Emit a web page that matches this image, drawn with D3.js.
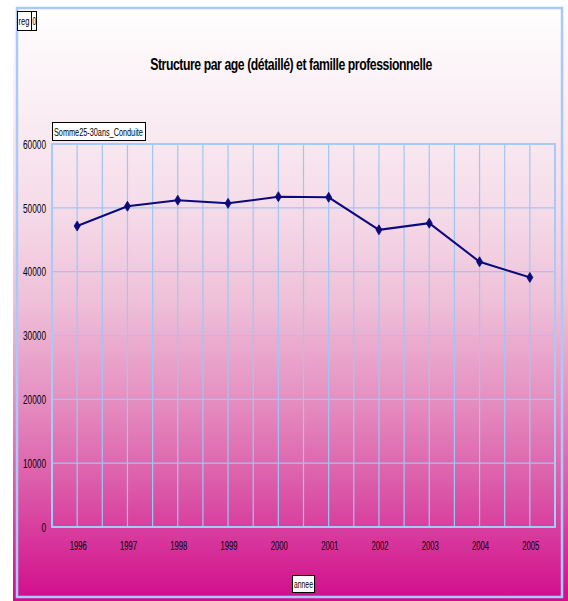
<!DOCTYPE html>
<html>
<head>
<meta charset="utf-8">
<script src="https://cdn.jsdelivr.net/npm/d3@7"></script>
<style>
  html, body { margin: 0; padding: 0; background: #ffffff; }
  svg { display: block; font-family: "Liberation Sans", Arial, sans-serif; }
</style>
</head>
<body>
<svg id="chart" width="568" height="601"></svg>
<script>
// Yearly totals, 25-30 age group, "Conduite" family
const years = ["1996", "1997", "1998", "1999", "2000", "2001", "2002", "2003", "2004", "2005"];
const values = [47150, 50250, 51200, 50700, 51750, 51650, 46550, 47600, 41550, 39100];
const yTicks = [0, 10000, 20000, 30000, 40000, 50000, 60000];

const titleText = "Structure par age (détaillé) et famille professionnelle";
const seriesName = "Somme25-30ans_Conduite";
const filterField = "reg";
const filterValue = "0";
const xTitle = "annee";

const svg = d3.select("#chart");

// Background gradient, white at the top to magenta at the bottom
const defs = svg.append("defs");
const grad = defs.append("linearGradient")
  .attr("id", "bg").attr("x1", 0).attr("y1", 0).attr("x2", 0).attr("y2", 1);
[[0, "#ffffff"], [0.15, "#fbf1f6"], [0.35, "#f5dbe8"], [0.5, "#efc0d9"],
 [0.65, "#e694c3"], [0.8, "#dc5eaa"], [1, "#d20c8c"]]
  .forEach(([o, c]) => grad.append("stop").attr("offset", o).attr("stop-color", c));

svg.append("rect").attr("x", 13).attr("y", 0).attr("width", 555).attr("height", 601)
  .attr("fill", "url(#bg)");

// Outer frame
svg.append("rect").attr("x", 17).attr("y", 8).attr("width", 545).attr("height", 589)
  .attr("fill", "none").attr("stroke", "#a9c9fb").attr("stroke-width", 2.5);

// Condensed text: squeeze a label horizontally to a given width around its anchor x
function squeeze(sel, width) {
  const node = sel.node();
  const natural = node.getComputedTextLength();
  const k = Math.min(1, width / natural);
  const ax = +sel.attr("x") || 0;
  sel.attr("transform", `translate(${ax},0) scale(${k},1) translate(${-ax},0)`);
  return sel;
}

// Plot area
const plot = { left: 52, top: 144, right: 555, bottom: 527 };

const x = d3.scaleBand().domain(years).range([plot.left, plot.right]).padding(0);
const y = d3.scaleLinear().domain([0, 60000]).range([plot.bottom, plot.top]);

const grid = svg.append("g").attr("stroke", "#9cc8f6").attr("stroke-width", 1.2);

// Horizontal gridlines
yTicks.forEach(t => {
  grid.append("line").attr("x1", plot.left).attr("x2", plot.right)
    .attr("y1", y(t)).attr("y2", y(t));
});

// Vertical gridlines at category edges and centres
years.forEach(yr => {
  const x0 = x(yr), xc = x(yr) + x.bandwidth() / 2;
  grid.append("line").attr("x1", x0).attr("x2", x0).attr("y1", plot.top).attr("y2", plot.bottom);
  grid.append("line").attr("x1", xc).attr("x2", xc).attr("y1", plot.top).attr("y2", plot.bottom);
});

// Plot border
svg.append("rect").attr("x", plot.left).attr("y", plot.top)
  .attr("width", plot.right - plot.left).attr("height", plot.bottom - plot.top)
  .attr("fill", "none").attr("stroke", "#a4ccf8").attr("stroke-width", 2);

// Y axis labels
const yAxis = d3.axisLeft(y).tickValues(yTicks).tickSize(0).tickPadding(5).tickFormat(d3.format("d"));
const gy = svg.append("g").attr("transform", `translate(${plot.left - 1},0)`).call(yAxis);
gy.select(".domain").remove();
gy.selectAll("text")
  .attr("font-size", 12).attr("fill", "#000").attr("dy", "0.35em")
  .each(function(d) { squeeze(d3.select(this), String(d).length * 4.6); });

// X axis labels
const xAxis = d3.axisBottom(x).tickSize(0).tickPadding(14);
const gx = svg.append("g").attr("transform", `translate(1,${plot.bottom})`).call(xAxis);
gx.select(".domain").remove();
gx.selectAll("text").attr("font-size", 12).attr("fill", "#000")
  .each(function() { squeeze(d3.select(this), 17); });

// Series line
const cx = d => x(d.year) + x.bandwidth() / 2;
const data = years.map((yr, i) => ({ year: yr, value: values[i] }));

svg.append("path").datum(data)
  .attr("fill", "none").attr("stroke", "#0a0a7a").attr("stroke-width", 2)
  .attr("d", d3.line().x(cx).y(d => y(d.value)));

// Diamond markers
svg.selectAll(".marker").data(data).enter().append("path")
  .attr("class", "marker")
  .attr("transform", d => `translate(${cx(d)},${y(d.value)})`)
  .attr("d", "M0,-5L3,0L0,5L-3,0Z")
  .attr("fill", "#0a0a7a").attr("stroke", "#0a0a7a").attr("stroke-width", 0.8);

// Title
squeeze(svg.append("text").attr("x", 291).attr("y", 70).attr("text-anchor", "middle")
  .attr("font-size", 17).attr("font-weight", "bold").attr("fill", "#000")
  .attr("letter-spacing", -0.6)
  .text(titleText), 282);

// Page field button
svg.append("rect").attr("x", 17.5).attr("y", 11.5).attr("width", 19).attr("height", 19)
  .attr("fill", "#ffffff").attr("stroke", "#000").attr("stroke-width", 1);
svg.append("line").attr("x1", 31.5).attr("x2", 31.5).attr("y1", 11.5).attr("y2", 30.5)
  .attr("stroke", "#000").attr("stroke-width", 1);
squeeze(svg.append("text").attr("x", 18.5).attr("y", 25).attr("font-size", 11).attr("fill", "#000")
  .text(filterField), 11);
squeeze(svg.append("text").attr("x", 32.5).attr("y", 25).attr("font-size", 11).attr("fill", "#000")
  .text(filterValue), 3.5);

// Series name button
svg.append("rect").attr("x", 52.5).attr("y", 122.5).attr("width", 93).attr("height", 18)
  .attr("fill", "#ffffff").attr("stroke", "#000").attr("stroke-width", 1);
squeeze(svg.append("text").attr("x", 54).attr("y", 136).attr("font-size", 11).attr("fill", "#000")
  .text(seriesName), 89);

// X axis title button
svg.append("rect").attr("x", 292.5).attr("y", 575.5).attr("width", 22).attr("height", 17)
  .attr("fill", "#ffffff").attr("stroke", "#000").attr("stroke-width", 1);
squeeze(svg.append("text").attr("x", 294).attr("y", 588).attr("font-size", 11).attr("fill", "#000")
  .text(xTitle), 19);
</script>
</body>
</html>
